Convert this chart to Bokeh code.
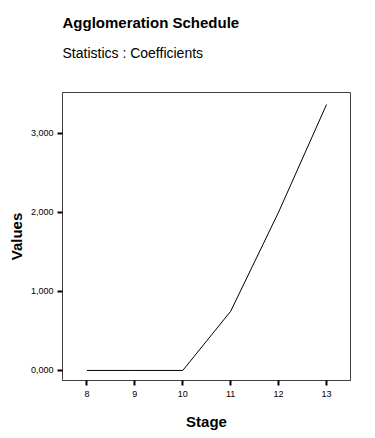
from bokeh.plotting import figure
from bokeh.models import Range1d, FixedTicker, Title
from bokeh.embed import file_html
from bokeh.resources import INLINE

stage = [8, 9, 10, 11, 12, 13]
coefficients = [0.0, 0.0, 0.0, 750.0, 2005.0, 3367.0]
x_ticks = [8, 9, 10, 11, 12, 13]
y_ticks = [0, 1000, 2000, 3000]
y_tick_labels = ["0,000", "1,000", "2,000", "3,000"]

FONT = "Liberation Sans"
FRAME = "#404040"

p = figure(width=375, height=438, output_backend="svg", toolbar_location=None,
           x_range=Range1d(7.49, 13.5), y_range=Range1d(-127, 3519),
           min_border_left=62, min_border_right=25, min_border_top=0, min_border_bottom=58)
p.background_fill_color = "white"
p.border_fill_color = "white"
p.outline_line_color = FRAME
p.outline_line_width = 1
p.grid.visible = False

p.line(stage, coefficients, line_color="black", line_width=1)

p.xaxis.ticker = FixedTicker(ticks=x_ticks)
p.yaxis.ticker = FixedTicker(ticks=y_ticks)
p.yaxis.major_label_overrides = {t: l for t, l in zip(y_ticks, y_tick_labels)}
for ax in (p.xaxis, p.yaxis):
    ax.axis_line_color = FRAME
    ax.major_tick_line_color = "black"
    ax.major_tick_line_width = 2
    ax.major_tick_out = 5
    ax.major_tick_in = 0
    ax.minor_tick_line_color = None
    ax.major_label_text_font = FONT
    ax.major_label_text_font_size = "9px"
    ax.major_label_text_color = "black"
    ax.axis_label_text_font = FONT
    ax.axis_label_text_font_size = "15px"
    ax.axis_label_text_font_style = "bold"
    ax.axis_label_text_color = "black"
p.xaxis.axis_label = "Stage"
p.yaxis.axis_label = "Values"
p.xaxis.major_label_standoff = 5
p.yaxis.major_label_standoff = 4
p.xaxis.axis_label_standoff = 13
p.yaxis.axis_label_standoff = 3

spacer = Title(text=" ", align="left", text_font=FONT, text_font_size="13px",
               text_color="white", standoff=15, offset=0)
subtitle = Title(text="Statistics : Coefficients", align="left", text_font=FONT,
                 text_font_size="14px", text_font_style="normal", text_color="black",
                 standoff=0, offset=0)
title = Title(text="Agglomeration Schedule", align="left", text_font=FONT,
              text_font_size="15px", text_font_style="bold", text_color="black",
              standoff=23, offset=0)
p.add_layout(spacer, "above")
p.add_layout(subtitle, "above")
p.add_layout(title, "above")

open("out.html", "w").write(file_html(p, INLINE))
